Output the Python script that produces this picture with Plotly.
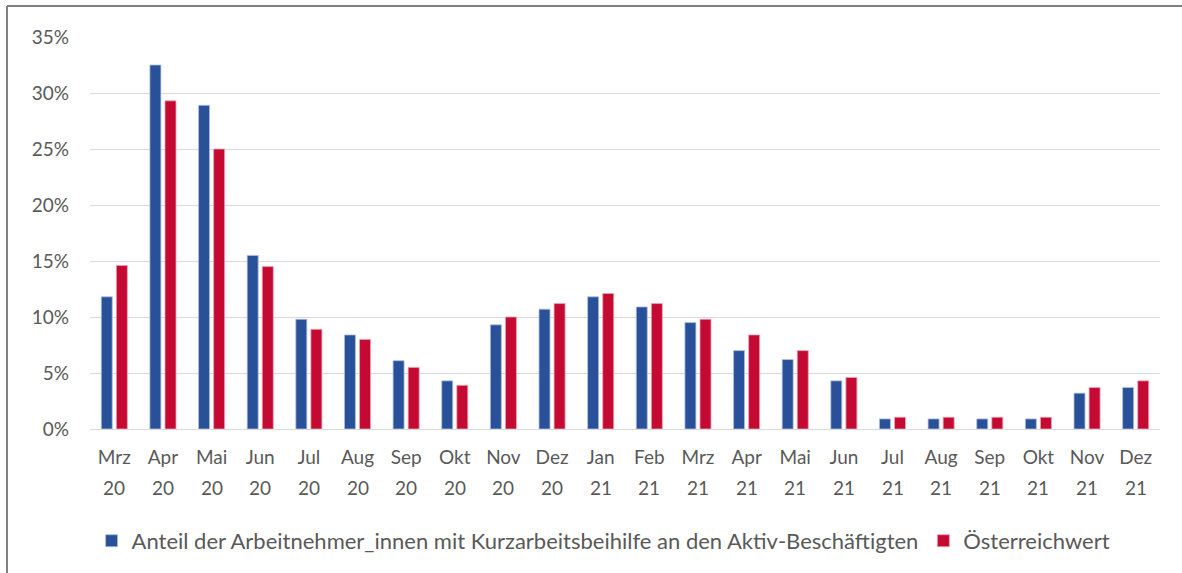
import plotly.graph_objects as go

months = ["Mrz", "Apr", "Mai", "Jun", "Jul", "Aug", "Sep", "Okt", "Nov", "Dez",
          "Jan", "Feb", "Mrz", "Apr", "Mai", "Jun", "Jul", "Aug", "Sep", "Okt", "Nov", "Dez"]
years = ["20"] * 10 + ["21"] * 12

# share of employees on short-time work (%)
anteil = [11.8, 32.5, 28.9, 15.5, 9.8, 8.4, 6.1, 4.3, 9.3, 10.7,
          11.8, 10.9, 9.5, 7.0, 6.2, 4.3, 0.9, 0.9, 0.9, 0.9, 3.2, 3.7]
oesterreich = [14.6, 29.3, 25.0, 14.5, 8.9, 8.0, 5.5, 3.9, 10.0, 11.2,
               12.1, 11.2, 9.8, 8.4, 7.0, 4.6, 1.05, 1.05, 1.05, 1.05, 3.7, 4.3]

name_a = "Anteil der Arbeitnehmer_innen mit Kurzarbeitsbeihilfe an den Aktiv-Beschäftigten"
name_b = "Österreichwert"

BLUE = "#28519A"
RED = "#C40A33"
INK = "#595959"
FONT = "Lato, Calibri, sans-serif"

x_idx = list(range(len(months)))

fig = go.Figure()
fig.add_trace(go.Bar(x=x_idx, y=[v / 100 for v in anteil], name=name_a,
                     marker=dict(color=BLUE, line=dict(color="#AFC0E0", width=0.8))))
fig.add_trace(go.Bar(x=x_idx, y=[v / 100 for v in oesterreich], name=name_b,
                     marker=dict(color=RED, line=dict(color="#EBA3B3", width=0.8))))

# second row of the category labels (year)
for i, yr in zip(x_idx, years):
    fig.add_annotation(x=i, y=-0.1505, xref="x", yref="paper", text=yr,
                       showarrow=False, yanchor="middle",
                       font=dict(size=19, color=INK))

# thin frame (top + left) like the exported chart box
FX = -83 / 1070
FY = 1 + 31 / 392
fig.add_shape(type="line", xref="paper", yref="paper",
              x0=FX, x1=1.03, y0=FY, y1=FY, line=dict(color="#808080", width=2))
fig.add_shape(type="line", xref="paper", yref="paper",
              x0=FX, x1=FX, y0=-0.4, y1=FY, line=dict(color="#808080", width=2))

fig.update_layout(
    width=1182, height=573,
    barmode="group", bargap=0.38, bargroupgap=0.27,
    paper_bgcolor="white", plot_bgcolor="white",
    font=dict(family=FONT, size=19, color=INK),
    margin=dict(l=90, r=22, t=37, b=144),
    showlegend=True,
    legend=dict(orientation="h", x=0.48, xanchor="center",
                yref="container", y=0.056, yanchor="middle",
                font=dict(size=22, color=INK), itemwidth=30,
                traceorder="normal", tracegroupgap=0),
    xaxis=dict(tickmode="array", tickvals=x_idx, ticktext=months,
               range=[-0.5, len(months) - 0.5], ticklabelstandoff=15,
               showgrid=False, showline=False, ticks="", zeroline=False,
               tickfont=dict(size=19, color=INK)),
    yaxis=dict(range=[0, 0.35], dtick=0.05, tickformat=".0%",
               showgrid=True, gridcolor="#D9D9D9", gridwidth=1,
               zeroline=True, zerolinecolor="#D9D9D9", zerolinewidth=1,
               showline=False, ticks="", ticklabelstandoff=20,
               tickfont=dict(size=19, color=INK)),
)

# drop the default 8px body margin so the figure fills the window
fig.write_html("out.html", config={"displayModeBar": False},
               post_script="document.body.style.margin='0';")
